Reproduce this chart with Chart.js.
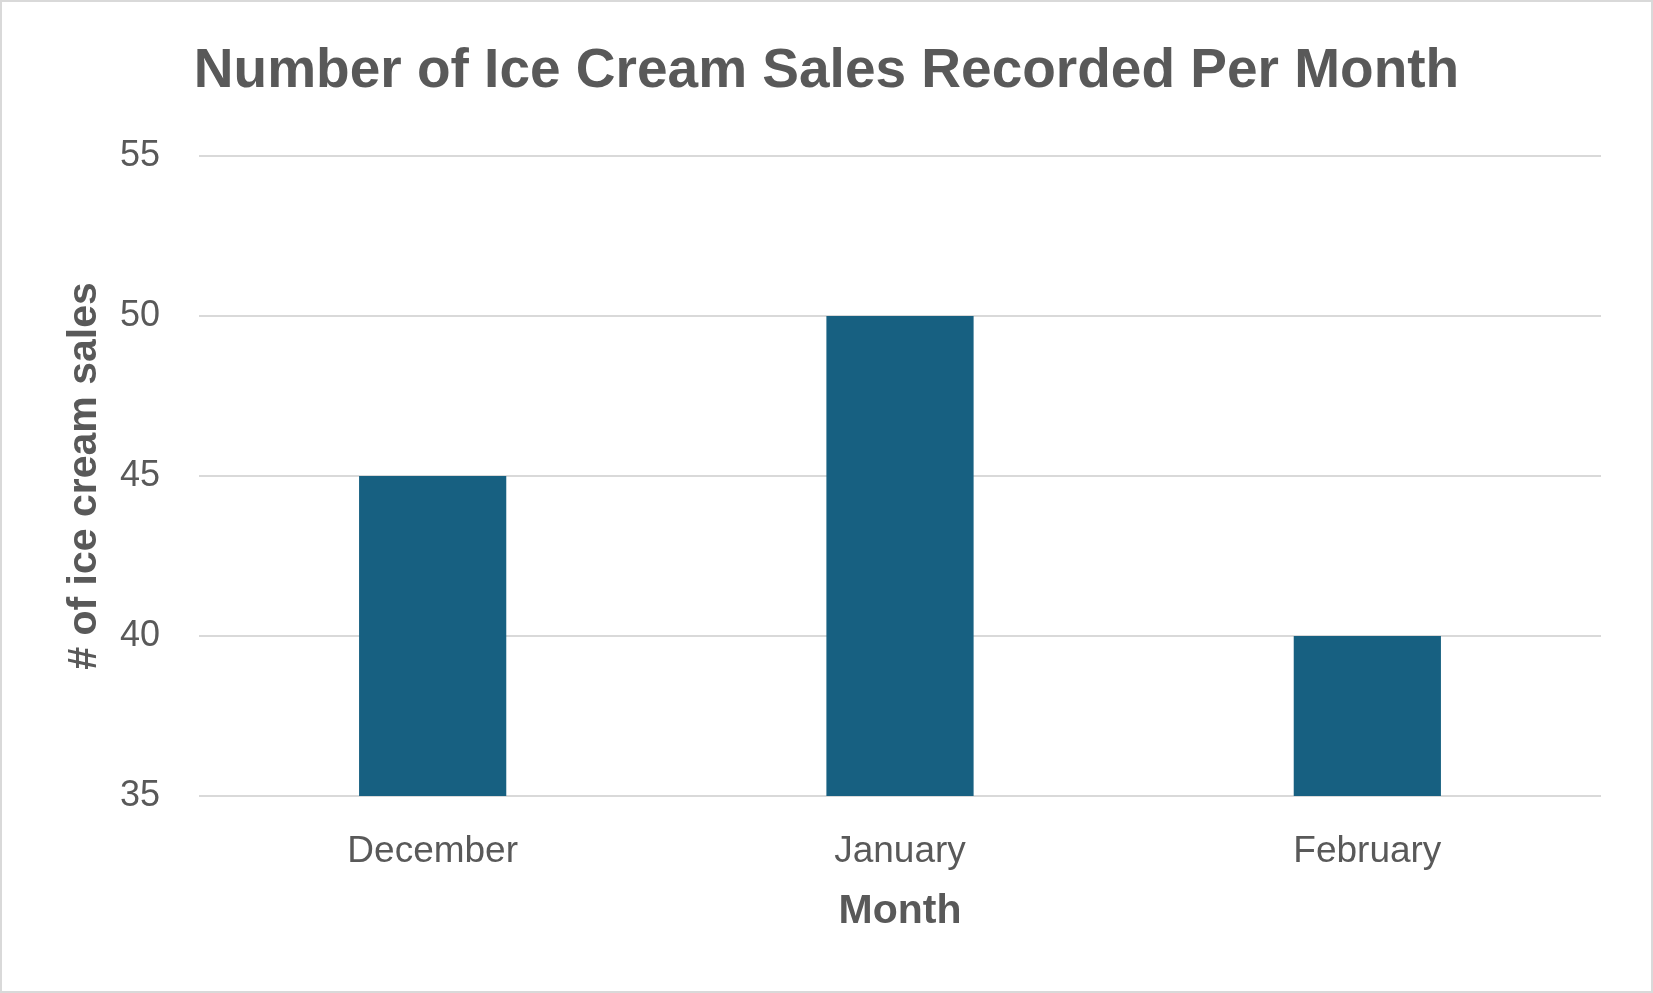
<!DOCTYPE html>
<html>
<head>
<meta charset="utf-8">
<script src="https://cdn.jsdelivr.net/npm/chart.js@4.4.1/dist/chart.umd.min.js"></script>
<style>
    body { margin: 0; background: #ffffff; }
    #frame {
        position: relative;
        width: 1653px;
        height: 993px;
        box-sizing: border-box;
        border: 2px solid #d9d9d9;
    }
    #salesChart { position: absolute; left: -2px; top: -2px; }
</style>
</head>
<body>
<div id="frame">
    <canvas id="salesChart" width="1653" height="993"></canvas>
</div>
<script>
// chart data
const months = ['December', 'January', 'February'];
const sales = [45, 50, 40];
const yTicks = [35, 40, 45, 50, 55];

const textColor = '#595959';
const gridColor = '#d9d9d9';
const fontFamily = '"Liberation Sans", Arial, sans-serif';

document.addEventListener('DOMContentLoaded', () => {
    const ctx = document.getElementById('salesChart').getContext('2d');
    const salesChart = new Chart(ctx, {
        type: 'bar',
        data: {
            labels: months,
            datasets: [
                {
                    label: '# of ice cream sales',
                    data: sales,
                    backgroundColor: '#176081',
                    categoryPercentage: 1,
                    barPercentage: 0.315
                }
            ]
        },
        options: {
            responsive: false,
            animation: false,
            devicePixelRatio: 1,
            layout: {
                padding: 0
            },
            scales: {
                x: {
                    grid: { display: false },
                    border: { display: false },
                    ticks: {
                        color: textColor,
                        font: { family: fontFamily, size: 37 },
                        padding: 26
                    },
                    title: {
                        display: true,
                        text: 'Month',
                        color: textColor,
                        font: { family: fontFamily, size: 41, weight: 'bold' },
                        padding: { top: 0, bottom: 57 }
                    },
                    afterFit: (scale) => { scale.height = 197; }
                },
                y: {
                    min: yTicks[0],
                    max: yTicks[yTicks.length - 1],
                    afterBuildTicks: (scale) => {
                        scale.ticks = yTicks.map(v => ({ value: v }));
                    },
                    grid: {
                        color: gridColor,
                        lineWidth: 2,
                        drawTicks: false
                    },
                    border: { display: false },
                    ticks: {
                        color: textColor,
                        font: { family: fontFamily, size: 36 },
                        padding: 39
                    },
                    title: {
                        display: true,
                        text: '# of ice cream sales',
                        color: textColor,
                        font: { family: fontFamily, size: 41, weight: 'bold' },
                        padding: { top: 60, bottom: 0 }
                    },
                    afterFit: (scale) => { scale.width = 199; }
                },
                // empty right margin so the title stays centred on the whole canvas
                yRight: {
                    position: 'right',
                    grid: { display: false },
                    border: { display: false },
                    ticks: { display: false },
                    afterFit: (scale) => { scale.width = 52; }
                }
            },
            plugins: {
                legend: { display: false },
                tooltip: { enabled: false },
                title: {
                    display: true,
                    text: 'Number of Ice Cream Sales Recorded Per Month',
                    color: textColor,
                    font: { family: fontFamily, size: 55, weight: 'bold' },
                    padding: { top: 39, bottom: 51 }
                }
            }
        }
    });
});
</script>
</body>
</html>
